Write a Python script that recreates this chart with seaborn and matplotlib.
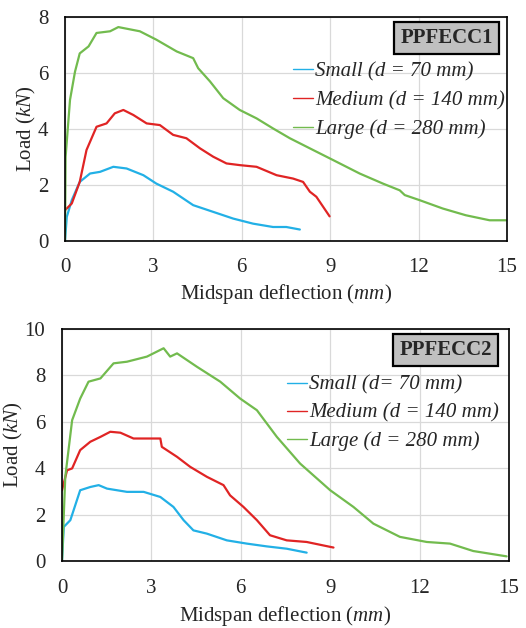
import numpy as np
import pandas as pd
import matplotlib
matplotlib.use("Agg")
import matplotlib.pyplot as plt
import seaborn as sns

# ---------------- data ----------------
# PPFECC1
p1_small_x = [0, 0.06, 0.23, 0.5, 0.85, 1.19, 1.64, 2.09, 2.66, 3.1, 3.67, 4.35, 5.03, 5.71, 6.38, 7.06, 7.51, 7.97]
p1_small_y = [0, 0.86, 1.46, 2.11, 2.41, 2.47, 2.65, 2.59, 2.35, 2.05, 1.76, 1.28, 1.04, 0.80, 0.62, 0.50, 0.50, 0.41]
p1_med_x = [0, 0.23, 0.5, 0.73, 1.07, 1.41, 1.69, 1.98, 2.32, 2.77, 3.22, 3.67, 4.12, 4.58, 5.03, 5.48, 5.93, 6.5, 7.18, 7.74, 8.08, 8.31, 8.53, 8.98]
p1_med_y = [1.10, 1.34, 2.11, 3.25, 4.08, 4.20, 4.56, 4.68, 4.50, 4.20, 4.14, 3.79, 3.67, 3.31, 3.01, 2.77, 2.71, 2.65, 2.35, 2.23, 2.11, 1.76, 1.58, 0.88]
p1_large_x = [0, 0.02, 0.17, 0.34, 0.5, 0.8, 1.07, 1.53, 1.81, 2.54, 3.1, 3.79, 4.35, 4.52, 4.92, 5.37, 5.93, 6.5, 7.06, 7.63, 8.42, 9.1, 10.0, 10.79, 11.36, 11.53, 12.03, 12.82, 13.6, 14.41, 14.97]
p1_large_y = [0, 3.00, 5.04, 6.05, 6.70, 6.95, 7.43, 7.49, 7.64, 7.49, 7.19, 6.77, 6.53, 6.17, 5.70, 5.10, 4.68, 4.38, 4.02, 3.67, 3.25, 2.89, 2.41, 2.05, 1.81, 1.64, 1.46, 1.16, 0.92, 0.74, 0.74]

# PPFECC2
p2_small_x = [0, 0.06, 0.28, 0.61, 0.95, 1.23, 1.51, 2.18, 2.74, 3.3, 3.74, 4.08, 4.41, 4.86, 5.53, 6.2, 6.87, 7.54, 8.21]
p2_small_y = [0, 1.47, 1.76, 3.05, 3.19, 3.27, 3.12, 2.98, 2.98, 2.76, 2.33, 1.76, 1.32, 1.18, 0.89, 0.75, 0.63, 0.53, 0.36]
p2_med_x = [0, 0.17, 0.34, 0.61, 0.95, 1.29, 1.62, 1.96, 2.4, 2.85, 3.3, 3.35, 3.86, 4.3, 4.86, 5.42, 5.64, 6.09, 6.54, 6.98, 7.54, 8.21, 9.11]
p2_med_y = [3.05, 3.91, 3.99, 4.78, 5.14, 5.35, 5.57, 5.53, 5.28, 5.28, 5.28, 4.92, 4.49, 4.06, 3.63, 3.27, 2.83, 2.33, 1.76, 1.11, 0.89, 0.82, 0.58]
p2_large_x = [0, 0.11, 0.34, 0.61, 0.89, 1.29, 1.73, 2.18, 2.85, 3.41, 3.63, 3.86, 4.53, 5.31, 5.98, 6.54, 7.21, 7.99, 9.0, 9.78, 10.45, 11.34, 12.24, 13.02, 13.8, 14.92]
p2_large_y = [0, 3.63, 6.07, 7.00, 7.73, 7.87, 8.52, 8.59, 8.81, 9.17, 8.81, 8.95, 8.37, 7.73, 7.00, 6.50, 5.35, 4.20, 3.05, 2.33, 1.61, 1.04, 0.82, 0.75, 0.43, 0.20]

labels1 = ["Small (d = 70 mm)", "Medium (d = 140 mm)", "Large (d = 280 mm)"]
labels2 = ["Small (d= 70 mm)", "Medium (d = 140 mm)", "Large (d = 280 mm)"]
titles = ["PPFECC1", "PPFECC2"]
x_ticks = [0, 3, 6, 9, 12, 15]
y_ticks1 = [0, 2, 4, 6, 8]
y_ticks2 = [0, 2, 4, 6, 8, 10]

colors = ["#22b0e6", "#e02424", "#72bb4e"]

# ---------------- style ----------------
sns.set_theme(style="white")
plt.rcParams["font.family"] = ["Liberation Serif", "DejaVu Serif"]
plt.rcParams["mathtext.fontset"] = "custom"
plt.rcParams["mathtext.rm"] = "Liberation Serif"
plt.rcParams["mathtext.it"] = "Liberation Serif:italic"

FS = 15

fig = plt.figure(figsize=(5.26, 6.28), dpi=100)
ax1 = fig.add_axes([65/526, 1-241/628, 442/526, 224/628])
ax2 = fig.add_axes([62/526, 1-561/628, 447/526, 232/628])

panels = [
    (ax1, [(p1_small_x, p1_small_y), (p1_med_x, p1_med_y), (p1_large_x, p1_large_y)], labels1, y_ticks1, titles[0],
     (0.516, 0.80), (0.863, 0.906), 12, 0.0, 0.45),
    (ax2, [(p2_small_x, p2_small_y), (p2_med_x, p2_med_y), (p2_large_x, p2_large_y)], labels2, y_ticks2, titles[1],
     (0.504, 0.80), (0.859, 0.91), 13, 0.0, 0.40),
]

for ax, series, labels, yt, title, legpos, boxpos, xpad, ylpad, lsp in panels:
    for (xs, ys), lab, c in zip(series, labels, colors):
        df = pd.DataFrame({"x": xs, "y": ys})
        sns.lineplot(data=df, x="x", y="y", ax=ax, color=c, lw=1.6, label=lab, sort=False)
    ax.set_xlim(0, 15)
    ax.set_ylim(0, yt[-1])
    ax.set_xticks(x_ticks)
    ax.set_yticks(yt)
    ax.tick_params(axis="x", labelsize=FS, length=0, pad=xpad)
    ax.tick_params(axis="y", labelsize=FS, length=0, pad=12)
    ax.grid(True, color="#d9d9d9", lw=0.9)
    for s in ax.spines.values():
        s.set_color("black")
        s.set_linewidth(1.2)
    ax.set_xlabel("Midspan deflection ($mm$)", fontsize=FS, labelpad=4)
    ax.set_ylabel("Load ($kN$)", fontsize=FS, labelpad=ylpad)
    ax.text(boxpos[0], boxpos[1], title, transform=ax.transAxes, ha="center", va="center",
            fontsize=FS, fontweight="bold",
            bbox=dict(boxstyle="square,pad=0.3", fc="#c0c0c0", ec="black", lw=1.6))
    leg = ax.legend(loc="upper left", bbox_to_anchor=legpos, frameon=False,
                    handlelength=0.95, handletextpad=0.1, borderpad=0, borderaxespad=0,
                    labelspacing=lsp, prop={"family": "Liberation Serif", "style": "italic", "size": FS})
    for h in leg.get_lines():
        h.set_linewidth(1.0)

fig.savefig("out.png", dpi=100)
